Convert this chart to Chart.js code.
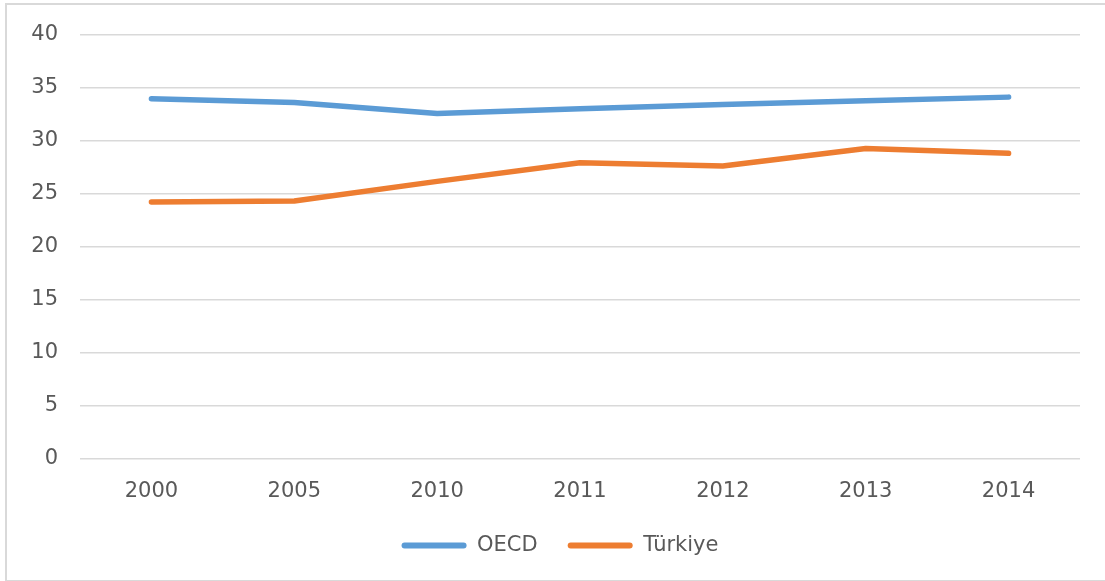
<!DOCTYPE html>
<html>
<head>
<meta charset="utf-8">
<script src="https://cdn.jsdelivr.net/npm/chart.js@4"></script>
<style>
  html, body { margin: 0; padding: 0; background: #fff; overflow: hidden; width: 1105px; height: 581px; }
  #frame { position: absolute; left: 5px; top: 3px; width: 1200px; height: 575px; border: 2px solid #d9d9d9; }
  #chart { position: absolute; left: 0; top: 0; }
</style>
</head>
<body>
<div id="frame"></div>
<canvas id="chart" width="1105" height="600"></canvas>
<script>
// Dữ liệu
const years = ['2000', '2005', '2010', '2011', '2012', '2013', '2014'];
const oecd = [33.95, 33.6, 32.55, 33.0, 33.4, 33.75, 34.1];
const turkiye = [24.2, 24.3, 26.15, 27.9, 27.6, 29.25, 28.8];
const yTicks = [0, 5, 10, 15, 20, 25, 30, 35, 40];

const textColor = '#595959';
const gridColor = '#d9d9d9';
const fontFamily = '"DejaVu Sans", sans-serif';

// Dời chú thích sang phải một chút cho giống ảnh gốc
const legendShift = {
    id: 'legendShift',
    afterLayout: function (chart) {
        chart.legend.left += 20;
        chart.legend.right += 20;
    }
};

new Chart(document.getElementById('chart').getContext('2d'), {
    type: 'line',
    data: {
        labels: years,
        datasets: [
            {
                label: 'OECD',
                data: oecd,
                borderColor: '#5B9BD5',
                backgroundColor: '#5B9BD5',
                borderWidth: 5.5,
                borderCapStyle: 'round',
                borderJoinStyle: 'round',
                pointRadius: 0,
                tension: 0
            },
            {
                label: 'Türkiye',
                data: turkiye,
                borderColor: '#ED7D31',
                backgroundColor: '#ED7D31',
                borderWidth: 5.5,
                borderCapStyle: 'round',
                borderJoinStyle: 'round',
                pointRadius: 0,
                tension: 0
            }
        ]
    },
    plugins: [legendShift],
    options: {
        responsive: false,
        animation: false,
        layout: { padding: { top: 32.5, right: 25, bottom: 34, left: 0 } },
        plugins: {
            tooltip: { enabled: false },
            legend: {
                position: 'bottom',
                labels: {
                    color: textColor,
                    font: { family: fontFamily, size: 21 },
                    boxWidth: 65,
                    boxHeight: 6,
                    useBorderRadius: true,
                    borderRadius: 3,
                    padding: 30,
                    generateLabels: function (chart) {
                        return Chart.defaults.plugins.legend.labels.generateLabels(chart)
                            .map(item => Object.assign(item, { lineWidth: 0 }));
                    }
                }
            }
        },
        scales: {
            x: {
                offset: true,
                grid: { display: false, drawTicks: false },
                border: { display: false },
                ticks: {
                    color: textColor,
                    font: { family: fontFamily, size: 21 },
                    padding: 20,
                    maxRotation: 0
                },
                afterFit: function (scale) { scale.height = 46.5; }
            },
            y: {
                min: 0,
                max: 40,
                afterBuildTicks: function (scale) {
                    scale.ticks = yTicks.map(v => ({ value: v }));
                },
                grid: { color: gridColor, lineWidth: 1.5, drawTicks: false },
                border: { display: false },
                ticks: {
                    color: textColor,
                    font: { family: fontFamily, size: 21 },
                    padding: 22
                },
                afterFit: function (scale) { scale.width = 80; }
            }
        }
    }
});
</script>
</body>
</html>
